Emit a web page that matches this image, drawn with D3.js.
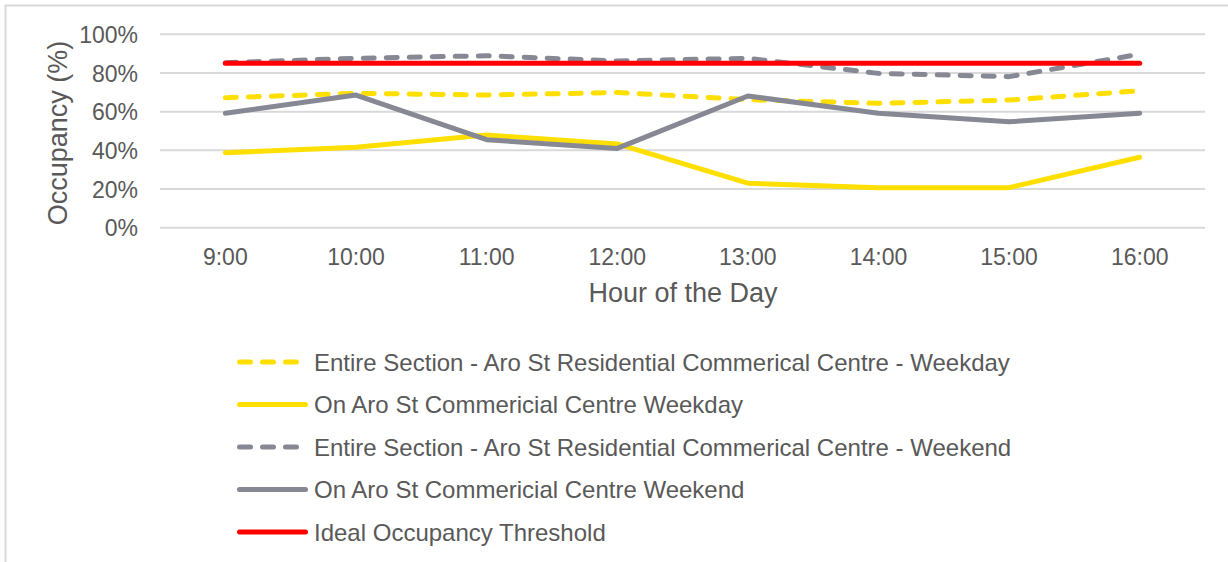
<!DOCTYPE html>
<html>
<head>
<meta charset="utf-8">
<script src="https://cdn.jsdelivr.net/npm/d3@7/dist/d3.min.js"></script>
<style>
  html, body { margin: 0; padding: 0; background: #ffffff; }
  svg { display: block; font-family: "Liberation Sans", Arial, sans-serif; }
</style>
</head>
<body>
<svg id="chart" width="1228" height="562"></svg>
<script>
// Hourly occupancy, Aro St parking survey
const hours = ["9:00", "10:00", "11:00", "12:00", "13:00", "14:00", "15:00", "16:00"];
const yTicks = [0, 20, 40, 60, 80, 100];

const entireWeekday = [67.2, 69.5, 68.6, 69.9, 66.2, 64.3, 66.0, 70.8];
const onAroWeekday  = [38.8, 41.6, 47.9, 43.3, 23.0, 20.7, 20.7, 36.4];
const entireWeekend = [85.3, 87.6, 88.9, 86.2, 87.6, 79.8, 78.1, 89.7];
const onAroWeekend  = [59.2, 68.6, 45.5, 41.0, 68.1, 59.2, 54.8, 59.2];
const idealThreshold = [85, 85, 85, 85, 85, 85, 85, 85];

const seriesNames = [
  "Entire Section - Aro St Residential Commerical Centre - Weekday",
  "On Aro St Commericial Centre Weekday",
  "Entire Section - Aro St Residential Commerical Centre - Weekend",
  "On Aro St Commericial Centre Weekend",
  "Ideal Occupancy Threshold"
];

const YELLOW = "#FFDF00", GREY = "#868893", RED = "#FF0000";
const series = [
  { name: seriesNames[0], values: entireWeekday, color: YELLOW, dashed: true },
  { name: seriesNames[1], values: onAroWeekday,  color: YELLOW, dashed: false },
  { name: seriesNames[2], values: entireWeekend, color: GREY,   dashed: true },
  { name: seriesNames[3], values: onAroWeekend,  color: GREY,   dashed: false },
  { name: seriesNames[4], values: idealThreshold, color: RED,   dashed: false }
];

const TEXT = "#595959", GRID = "#d9d9d9";
const DASH = "11,12";
const svg = d3.select("#chart");

// outer frame of the chart area
svg.append("rect")
  .attr("x", 5.5).attr("y", 5.5)
  .attr("width", 1400).attr("height", 800)
  .attr("fill", "#ffffff")
  .attr("stroke", GRID).attr("stroke-width", 2);

const plot = { left: 160, right: 1205, top: 34.3, bottom: 227.7 };

const x = d3.scaleBand().domain(hours).range([plot.left, plot.right]).padding(0);
const y = d3.scaleLinear().domain([0, 100]).range([plot.bottom, plot.top]);
const cx = h => x(h) + x.bandwidth() / 2;

// horizontal gridlines
svg.append("g")
  .selectAll("line").data(yTicks).join("line")
  .attr("x1", plot.left).attr("x2", plot.right)
  .attr("y1", d => y(d)).attr("y2", d => y(d))
  .attr("stroke", GRID).attr("stroke-width", 2);

// y axis labels
const yAxis = d3.axisLeft(y).tickValues(yTicks).tickFormat(d => d + "%").tickSize(0).tickPadding(0);
const gy = svg.append("g").attr("transform", `translate(138,0)`).call(yAxis);
gy.select(".domain").remove();
gy.selectAll("text")
  .attr("fill", TEXT).attr("font-size", 23).attr("font-family", "Liberation Sans, Arial, sans-serif")
  .attr("dy", "0.36em");

// x axis labels
const xAxis = d3.axisBottom(x).tickSize(0).tickPadding(0);
const gx = svg.append("g").attr("transform", `translate(0,${plot.bottom})`).call(xAxis);
gx.select(".domain").remove();
gx.selectAll("text")
  .attr("fill", TEXT).attr("font-size", 23).attr("font-family", "Liberation Sans, Arial, sans-serif")
  .attr("y", 37).attr("dy", 0);

// axis titles
svg.append("text")
  .attr("x", 683).attr("y", 302)
  .attr("text-anchor", "middle")
  .attr("fill", TEXT).attr("font-size", 27)
  .text("Hour of the Day");

svg.append("text")
  .attr("transform", "translate(67,133) rotate(-90)")
  .attr("text-anchor", "middle")
  .attr("fill", TEXT).attr("font-size", 27)
  .text("Occupancy (%)");

// series lines
const line = d3.line().x((d, i) => cx(hours[i])).y(d => y(d));
svg.append("g")
  .selectAll("path").data(series).join("path")
  .attr("d", d => line(d.values))
  .attr("fill", "none")
  .attr("stroke", d => d.color)
  .attr("stroke-width", 5)
  .attr("stroke-linecap", "round")
  .attr("stroke-linejoin", "round")
  .attr("stroke-dasharray", d => d.dashed ? DASH : null);

// legend
const legendTop = 362, legendStep = 42.5;
const lg = svg.append("g").selectAll("g").data(series).join("g")
  .attr("transform", (d, i) => `translate(0,${legendTop + i * legendStep})`);
lg.append("line")
  .attr("x1", 239.5).attr("x2", 305.5).attr("y1", 0).attr("y2", 0)
  .attr("stroke", d => d.color).attr("stroke-width", 5)
  .attr("stroke-linecap", "round")
  .attr("stroke-dasharray", d => d.dashed ? DASH : null);
lg.append("text")
  .attr("x", 314).attr("y", 0).attr("dy", "0.36em")
  .attr("fill", TEXT).attr("font-size", 24)
  .text(d => d.name);
</script>
</body>
</html>
